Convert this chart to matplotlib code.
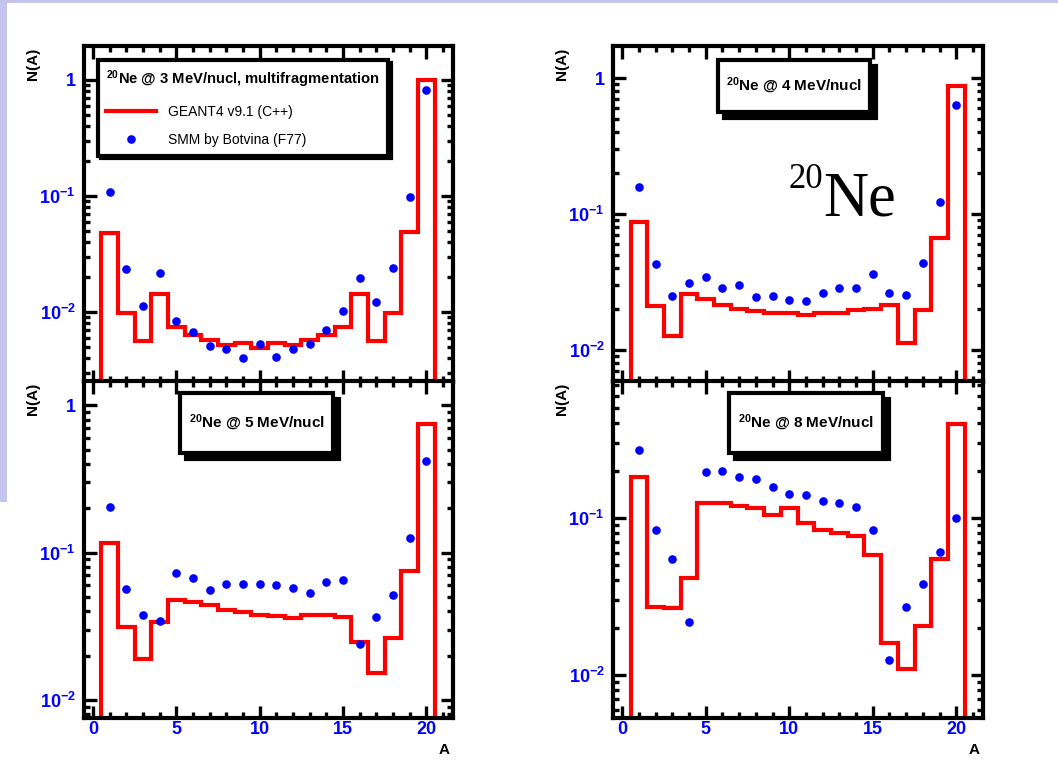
import numpy as np
import matplotlib
matplotlib.use('Agg')
import matplotlib.pyplot as plt
from matplotlib.patches import Rectangle
from matplotlib import transforms, ticker

plt.rcParams['font.family'] = ['Liberation Sans', 'DejaVu Sans']
plt.rcParams['mathtext.fontset'] = 'custom'
plt.rcParams['mathtext.rm'] = 'Liberation Sans'
plt.rcParams['mathtext.bf'] = 'Liberation Sans:bold'
plt.rcParams['mathtext.it'] = 'Liberation Sans:italic'

# ---------------- data ----------------
mass_numbers = list(range(1, 21))

geant_3mev = [0.048, 0.0098, 0.0056, 0.0144, 0.0075, 0.0064, 0.0057, 0.0052, 0.0054, 0.0049,
              0.0054, 0.0052, 0.0057, 0.0064, 0.0075, 0.0144, 0.0056, 0.0098, 0.049, 1.0]
smm_3mev = [0.109, 0.0235, 0.0112, 0.0217, 0.0084, 0.0067, 0.0051, 0.0048, 0.0040, 0.0053,
            0.0041, 0.0048, 0.0053, 0.0070, 0.0102, 0.0197, 0.0123, 0.0240, 0.098, 0.826]

geant_4mev = [0.0867, 0.0209, 0.0127, 0.0258, 0.0237, 0.0213, 0.0201, 0.0192, 0.0187, 0.0187,
              0.0180, 0.0186, 0.0187, 0.0195, 0.0201, 0.0213, 0.0113, 0.0196, 0.066, 0.88]
smm_4mev = [0.159, 0.0426, 0.0248, 0.0312, 0.0341, 0.0283, 0.0298, 0.0243, 0.0247, 0.0232,
            0.0228, 0.0260, 0.0285, 0.0283, 0.0360, 0.0264, 0.0254, 0.0436, 0.123, 0.631]

geant_5mev = [0.1167, 0.0312, 0.0190, 0.0337, 0.0478, 0.0463, 0.0444, 0.0409, 0.0396, 0.0380,
              0.0374, 0.0359, 0.0378, 0.0378, 0.0365, 0.0249, 0.0152, 0.0264, 0.0749, 0.750]
smm_5mev = [0.203, 0.0568, 0.0380, 0.0346, 0.0729, 0.0671, 0.0562, 0.0614, 0.0608, 0.0611,
            0.0606, 0.0577, 0.0536, 0.0634, 0.0647, 0.0240, 0.0365, 0.0512, 0.1255, 0.417]

geant_8mev = [0.183, 0.0270, 0.0267, 0.0414, 0.125, 0.124, 0.119, 0.115, 0.105, 0.116,
              0.0929, 0.0834, 0.0802, 0.0767, 0.0578, 0.0160, 0.0109, 0.0205, 0.0550, 0.396]
smm_8mev = [0.272, 0.0842, 0.0545, 0.0217, 0.195, 0.200, 0.181, 0.177, 0.157, 0.141,
            0.139, 0.128, 0.124, 0.118, 0.0834, 0.0125, 0.0270, 0.0381, 0.0604, 0.100]

energy_labels = ['3', '4', '5', '8']
legend_labels = ['GEANT4 v9.1 (C++)', 'SMM by Botvina (F77)']

x_tick_values = [0, 5, 10, 15, 20]
x_tick_labels = ['0', '5', '10', '15', '20']
y_tick_values = [1.0, 0.1, 0.01]
y_tick_labels = ['1', r'$\mathbf{10^{-1}}$', r'$\mathbf{10^{-2}}$']

# ---------------- figure ----------------
W, H = 1058, 760
fig = plt.figure(figsize=(W / 100, H / 100), dpi=100)
fig.patch.set_facecolor('white')

# slide decoration strips
fig.patches.append(Rectangle((0, 1 - 3 / H), 1, 3 / H, transform=fig.transFigure,
                             fc='#c4c4ee', ec='none', zorder=0))
fig.patches.append(Rectangle((0, 1 - 502 / H), 7 / W, 502 / H, transform=fig.transFigure,
                             fc='#c4c4ee', ec='none', zorder=0))


def px_axes(l, t, r, b):
    return fig.add_axes([l / W, 1 - b / H, (r - l) / W, (b - t) / H])


panels = [
    dict(rect=(84, 46, 453, 382), geant=geant_3mev, smm=smm_3mev, ylim=(0.0025, 1.96),
         energy=energy_labels[0], xlabels=False),
    dict(rect=(613, 46, 983, 382), geant=geant_4mev, smm=smm_4mev, ylim=(0.0058, 1.72),
         energy=energy_labels[1], xlabels=False),
    dict(rect=(84, 381, 453, 718), geant=geant_5mev, smm=smm_5mev, ylim=(0.00755, 1.46),
         energy=energy_labels[2], xlabels=True),
    dict(rect=(613, 381, 983, 718), geant=geant_8mev, smm=smm_8mev, ylim=(0.0053, 0.746),
         energy=energy_labels[3], xlabels=True),
]

box_pos = [None, (0.284, 0.804, 0.695, 0.958), (0.260, 0.786, 0.675, 0.964),
           (0.314, 0.786, 0.730, 0.964)]

blue = '#0000ff'
edges = np.arange(0.5, len(mass_numbers) + 1.0, 1.0)

for i, p in enumerate(panels):
    ax = px_axes(*p['rect'])
    ax.set_yscale('log')
    ax.set_xlim(-0.55, 21.6)
    ax.set_ylim(*p['ylim'])

    step = ax.stairs(p['geant'], edges, baseline=1e-9, color='#ff0000', lw=3.0, zorder=3)
    dots, = ax.plot(mass_numbers, p['smm'], 'o', color=blue, ms=6.2, mec='none', zorder=4)

    for s in ax.spines.values():
        s.set_linewidth(3.0)
        s.set_zorder(5)

    ax.xaxis.set_major_locator(ticker.FixedLocator(x_tick_values))
    ax.xaxis.set_minor_locator(ticker.MultipleLocator(1))
    ax.yaxis.set_major_locator(ticker.FixedLocator(y_tick_values))
    ax.yaxis.set_minor_locator(ticker.LogLocator(base=10, subs=np.arange(2, 10)))
    ax.yaxis.set_minor_formatter(ticker.NullFormatter())
    ax.yaxis.set_major_formatter(ticker.FixedFormatter(y_tick_labels))
    if p['xlabels']:
        ax.xaxis.set_major_formatter(ticker.FixedFormatter(x_tick_labels))
    else:
        ax.xaxis.set_major_formatter(ticker.NullFormatter())

    ax.tick_params(which='both', direction='in', top=True, right=True, width=2.4,
                   color='black')
    ax.tick_params(which='major', length=9)
    ax.tick_params(which='minor', length=4.5)
    ax.tick_params(axis='y', which='major', pad=6, labelsize=13, labelcolor=blue)
    ax.tick_params(axis='x', which='major', pad=2, labelsize=13, labelcolor=blue)
    for lab in ax.get_xticklabels() + ax.get_yticklabels():
        lab.set_fontweight('bold')

    ax.text(-0.137, 0.995, 'N(A)', transform=ax.transAxes, rotation=90, ha='center',
            va='top', fontsize=11, fontweight='bold')
    if p['xlabels']:
        ax.text(0.975, -0.075, 'A', transform=ax.transAxes, ha='center', va='top',
                fontsize=11, fontweight='bold')

    title = r'$^{\mathbf{20}}$Ne @ ' + p['energy'] + ' MeV/nucl'
    if i == 0:
        leg = ax.legend([step, dots], legend_labels,
                        title=title + ', multifragmentation',
                        title_fontproperties={'weight': 'bold', 'size': 10.6},
                        alignment='left', loc='upper left',
                        bbox_to_anchor=(0.038, 0.958), borderaxespad=0,
                        fontsize=10, handlelength=3.6, handletextpad=0.85,
                        labelspacing=1.05, borderpad=0.6, fancybox=False,
                        edgecolor='black', framealpha=1,
                        shadow={'facecolor': 'black', 'edgecolor': 'black', 'alpha': 1})
        leg.get_frame().set_linewidth(3.0)
        leg.set_zorder(10)
    else:
        x0, y0, x1, y1 = box_pos[i]
        sh_tr = transforms.offset_copy(ax.transAxes, fig=fig, x=6, y=-6, units='dots')
        ax.add_patch(Rectangle((x0, y0), x1 - x0, y1 - y0, transform=sh_tr, fc='black',
                               ec='black', lw=3, zorder=6, clip_on=False))
        ax.add_patch(Rectangle((x0, y0), x1 - x0, y1 - y0, transform=ax.transAxes,
                               fc='white', ec='black', lw=3, zorder=7, clip_on=False))
        ax.text((x0 + x1) / 2, (y0 + y1) / 2, title, transform=ax.transAxes, ha='center',
                va='center', fontsize=11, fontweight='bold', zorder=8)

    if i == 1:
        ax.text(0.568, 0.577, '20', transform=ax.transAxes, ha='right', va='baseline',
                fontsize=25, family='Liberation Serif', zorder=8)
        ax.text(0.568, 0.497, 'Ne', transform=ax.transAxes, ha='left', va='baseline',
                fontsize=45, family='Liberation Serif', zorder=8)

fig.savefig('out.png', dpi=100, facecolor='white')
